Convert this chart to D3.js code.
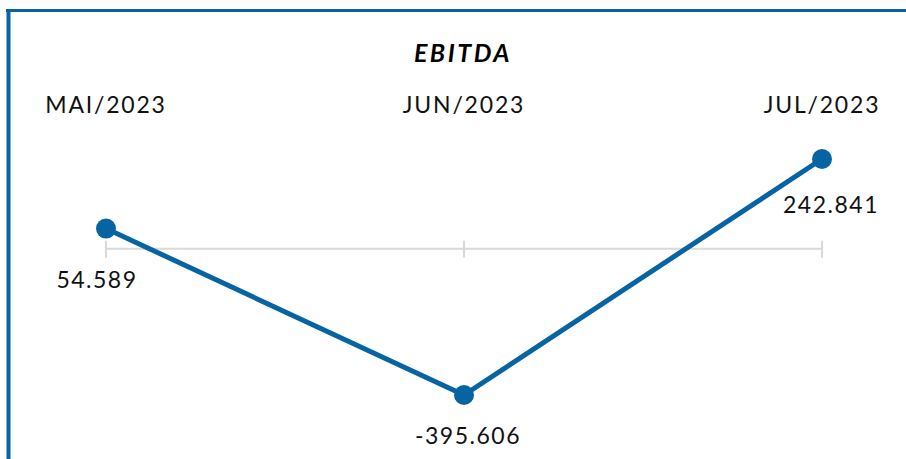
<!DOCTYPE html>
<html>
<head>
<meta charset="utf-8">
<script src="https://cdn.jsdelivr.net/npm/d3@7"></script>
<style>
  html, body { margin: 0; padding: 0; background: #fff; }
  svg { display: block; }
</style>
</head>
<body>
<svg id="chart" width="906" height="459"></svg>
<script>
const title = "EBITDA";
const categories = ["MAI/2023", "JUN/2023", "JUL/2023"];
const values = [54.589, -395.606, 242.841];
const valueLabels = ["54.589", "-395.606", "242.841"];

const W = 906, H = 459;
const blue = "#0764a3";
const font = "Lato, 'Noto Sans', sans-serif";

const svg = d3.select("#chart");

// frame: top + left
svg.append("line").attr("x1", 6).attr("x2", W).attr("y1", 10.5).attr("y2", 10.5)
  .attr("stroke", blue).attr("stroke-width", 3);
svg.append("line").attr("x1", 8.5).attr("x2", 8.5).attr("y1", 9).attr("y2", H)
  .attr("stroke", blue).attr("stroke-width", 4);

// title
svg.append("text").attr("x", 463).attr("y", 62)
  .attr("text-anchor", "middle")
  .attr("font-family", font).attr("font-weight", "bold").attr("font-style", "italic")
  .attr("font-size", 25).attr("letter-spacing", 2.5).attr("fill", "#000").text(title);

const x = d3.scalePoint().domain(categories).range([106, 822]);
const y = d3.scaleLinear().domain([d3.min(values), d3.max(values)]).range([395, 159]);

// category labels (top axis)
svg.selectAll("text.cat").data(categories).join("text")
  .attr("class", "cat")
  .attr("x", d => x(d)).attr("y", 113)
  .attr("text-anchor", "middle")
  .attr("font-family", font).attr("font-size", 23).attr("letter-spacing", 1.8).attr("fill", "#111")
  .text(d => d);

// zero baseline with ticks
const axisG = svg.append("g").attr("transform", `translate(0,${y(0)})`);
axisG.append("line").attr("x1", x(categories[0])).attr("x2", x(categories[categories.length - 1]))
  .attr("stroke", "#d9d9d9").attr("stroke-width", 2);
axisG.selectAll("line.tick").data(categories).join("line")
  .attr("class", "tick")
  .attr("x1", d => x(d)).attr("x2", d => x(d))
  .attr("y1", -8).attr("y2", 9)
  .attr("stroke", "#d9d9d9").attr("stroke-width", 2);

const pts = categories.map((c, i) => ({ c, v: values[i], label: valueLabels[i] }));

svg.append("path").datum(pts)
  .attr("fill", "none").attr("stroke", blue).attr("stroke-width", 5)
  .attr("stroke-linejoin", "round")
  .attr("d", d3.line().x(d => x(d.c)).y(d => y(d.v)));

svg.selectAll("circle.pt").data(pts).join("circle")
  .attr("class", "pt")
  .attr("cx", d => x(d.c)).attr("cy", d => y(d.v)).attr("r", 10)
  .attr("fill", blue);

svg.selectAll("text.val").data(pts).join("text")
  .attr("class", "val")
  .attr("x", (d, i) => x(d.c) + [-9, 4, 9][i])
  .attr("y", (d, i) => y(d.v) + [59, 49, 54][i])
  .attr("text-anchor", "middle")
  .attr("font-family", font).attr("font-size", 23).attr("letter-spacing", 1.5).attr("fill", "#111")
  .text(d => d.label);
</script>
</body>
</html>
